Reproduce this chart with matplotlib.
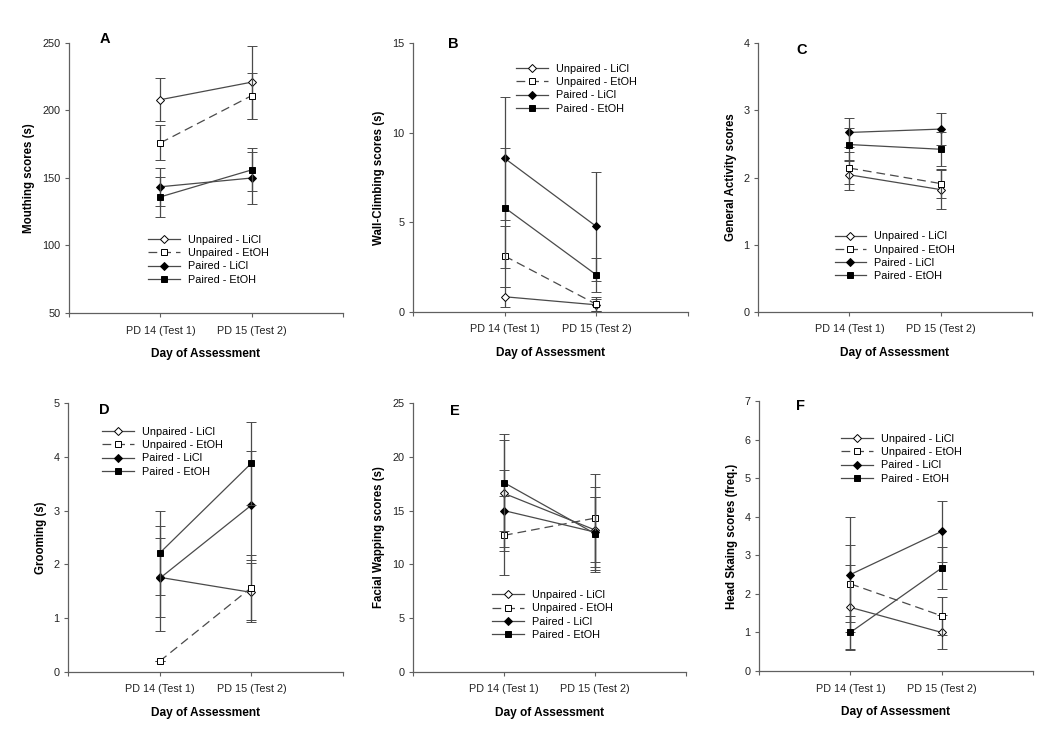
import matplotlib
matplotlib.use("Agg")
import matplotlib.pyplot as plt
from matplotlib.lines import Line2D

plt.rcParams["font.family"] = ["Liberation Sans", "DejaVu Sans"]

# x categories
days = ["PD 14 (Test 1)", "PD 15 (Test 2)"]
groups = ["Unpaired - LiCl", "Unpaired - EtOH", "Paired - LiCl", "Paired - EtOH"]

# A: mouthing (mean, sem) per group, PD14/PD15
mouth_mean = [[208, 221], [176, 211], [143.5, 150], [136, 156]]
mouth_err = [[16, 27], [13, 17], [14, 19], [15, 16]]

# B: wall climbing
wall_mean = [[0.85, 0.4], [3.12, 0.43], [8.57, 4.77], [5.82, 2.07]]
wall_err = [[0.57, 0.35], [1.7, 0.4], [3.43, 3.05], [3.35, 0.95]]

# C: general activity
act_mean = [[2.04, 1.82], [2.14, 1.91], [2.67, 2.72], [2.49, 2.42]]
act_err = [[0.22, 0.29], [0.24, 0.21], [0.21, 0.24], [0.25, 0.25]]

# D: grooming
groom_mean = [[1.76, 1.48], [0.2, 1.57], [1.74, 3.10], [2.21, 3.88]]
groom_err = [[0.74, 0.55], [0.0, 0.6], [0.98, 1.01], [0.78, 0.77]]

# E: facial wiping
face_mean = [[16.6, 13.2], [12.7, 14.3], [15.0, 13.0], [17.6, 12.86]]
face_err = [[5.0, 3.95], [3.65, 4.1], [3.73, 3.25], [4.5, 3.4]]

# F: head shaking
head_mean = [[1.65, 1.0], [2.26, 1.43], [2.5, 3.62], [1.0, 2.67]]
head_err = [[1.1, 0.44], [1.0, 0.5], [1.48, 0.8], [0.43, 0.55]]

LINE = "#4a4a4a"
styles = [
    dict(marker="D", mfc="white", ls="-", ms=4.3),
    dict(marker="s", mfc="white", ls=(0, (7, 4)), ms=4.4),
    dict(marker="D", mfc="black", ls="-", ms=4.3),
    dict(marker="s", mfc="black", ls="-", ms=4.4),
]

# (letter, ylabel, means, errs, ylim, ystep, axes px box, legend anchor, letter pos)
panels = [
    ("A", "Mouthing scores (s)", mouth_mean, mouth_err, (50, 250), 50,
     (69, 43, 343, 313), (0.29, 0.289), (0.113, 1.015)),
    ("B", "Wall-Climbing scores (s)", wall_mean, wall_err, (0, 15), 5,
     (413, 43, 688, 312), (0.375, 0.922), (0.127, 0.995)),
    ("C", "General Activity scores", act_mean, act_err, (0, 4), 1,
     (758, 43, 1032, 312), (0.28, 0.30), (0.14, 0.975)),
    ("D", "Grooming (s)", groom_mean, groom_err, (0, 5), 1,
     (68, 403, 343, 672), (0.124, 0.911), (0.113, 0.975)),
    ("E", "Facial Wapping scores (s)", face_mean, face_err, (0, 25), 5,
     (413, 403, 686, 672), (0.29, 0.304), (0.135, 0.97)),
    ("F", "Head Skaing scores (freq.)", head_mean, head_err, (0, 7), 1,
     (759, 401, 1033, 671), (0.30, 0.878), (0.135, 0.98)),
]

W, H = 1050, 735
fig = plt.figure(figsize=(W / 100, H / 100), dpi=100)

for letter, ylabel, means, errs, ylim, ystep, box, leg_xy, let_xy in panels:
    l, t, r, b = box
    ax = fig.add_axes([l / W, (H - b) / H, (r - l) / W, (b - t) / H])
    x = [1, 2]
    handles = []
    for g, (m, e, st) in enumerate(zip(means, errs, styles)):
        ax.errorbar(x, m, yerr=e, color=LINE, ecolor=LINE, lw=0.9,
                    elinewidth=0.9, capsize=3.6, capthick=0.9,
                    marker=st["marker"], ms=st["ms"], mfc=st["mfc"],
                    mec="black", mew=0.7, ls=st["ls"], zorder=3 + g)
        # legend shows only line + marker, no error bars
        handles.append(Line2D([], [], color=LINE, lw=0.9, ls=st["ls"],
                              marker=st["marker"], ms=st["ms"],
                              mfc=st["mfc"], mec="black", mew=0.7,
                              label=groups[g]))
    ax.set_xlim(0, 3)
    ax.set_ylim(*ylim)
    ax.set_xticks([0, 1, 2, 3])
    ax.set_xticklabels(["", days[0], days[1], ""])
    yt = list(range(ylim[0], ylim[1] + 1, ystep))
    ax.set_yticks(yt)
    for s in ("top", "right"):
        ax.spines[s].set_visible(False)
    for s in ("left", "bottom"):
        ax.spines[s].set_color("#606060")
        ax.spines[s].set_linewidth(0.9)
    ax.tick_params(labelsize=7.8, length=3, width=0.8, color="#606060",
                   labelcolor="#222222", pad=3)
    ax.tick_params(axis="x", pad=6)
    ax.set_xlabel("Day of Assessment", fontsize=8.6, fontweight="bold",
                  labelpad=9)
    ax.set_ylabel(ylabel, fontsize=8.3, fontweight="bold", labelpad=5)
    ax.text(let_xy[0], let_xy[1], letter, transform=ax.transAxes,
            fontsize=10.5, fontweight="bold", va="center", ha="left")
    ax.legend(handles=handles, loc="upper left", bbox_to_anchor=leg_xy,
              frameon=False, fontsize=7.8, handlelength=2.9,
              handletextpad=0.75, labelspacing=0.3, borderpad=0,
              borderaxespad=0)

fig.savefig("out.png", dpi=100, facecolor="white")
